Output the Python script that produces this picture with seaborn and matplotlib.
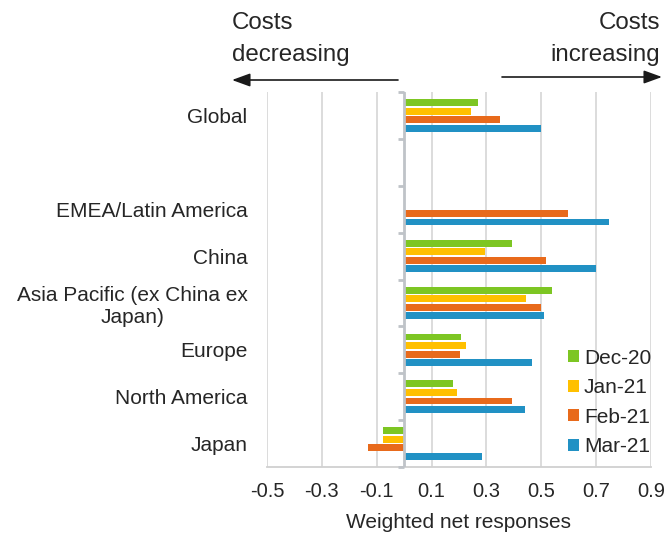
import matplotlib
matplotlib.use("Agg")
import matplotlib.pyplot as plt
from matplotlib.patches import FancyArrowPatch
import numpy as np
import pandas as pd
import seaborn as sns

# categories top to bottom ("" is the empty spacer row)
regions = ["Global", "", "EMEA/Latin America", "China",
           "Asia Pacific (ex China ex\nJapan)", "Europe", "North America", "Japan"]
months = ["Dec-20", "Jan-21", "Feb-21", "Mar-21"]
colors = ["#7DC623", "#FFC000", "#E86A1B", "#2191C4"]

dec20 = [0.268, np.nan, np.nan, 0.392, 0.539, 0.208, 0.178, -0.076]
jan21 = [0.242, np.nan, np.nan, 0.296, 0.444, 0.226, 0.191, -0.076]
feb21 = [0.351, np.nan, 0.599, 0.517, 0.499, 0.203, 0.395, -0.132]
mar21 = [0.500, np.nan, 0.747, 0.698, 0.511, 0.465, 0.440, 0.284]

x_ticks = [-0.5, -0.3, -0.1, 0.1, 0.3, 0.5, 0.7, 0.9]

df = pd.DataFrame({"region": regions * 4,
                   "month": np.repeat(months, len(regions)),
                   "value": dec20 + jan21 + feb21 + mar21}).dropna()

sns.set_theme(style="white")
plt.rcParams["font.family"] = ["Liberation Sans", "DejaVu Sans"]
text_c = "#262626"
fs = 15

W, H = 667, 534
fig = plt.figure(figsize=(W / 100, H / 100), dpi=100)
ax = fig.add_axes([267 / W, 1 - 467 / H, (651 - 267) / W, (467 - 92) / H])

sns.barplot(data=df, y="region", x="value", hue="month", order=regions, hue_order=months,
            palette=colors, orient="h", width=0.73, gap=0.2, ax=ax, saturation=1,
            linewidth=0, errorbar=None)

ax.set_xlim(-0.5, 0.9)
ax.set_ylim(len(regions) - 0.5, -0.5)
ax.set_xticks(x_ticks)
ax.set_xticklabels([f"{t:.1f}" for t in x_ticks], fontsize=14.5, color=text_c)
ax.set_yticks(range(len(regions)))
ax.set_yticklabels(regions, fontsize=fs, color=text_c, multialignment="center")
ax.tick_params(axis="y", length=0, pad=14)
ax.tick_params(axis="x", length=3, width=1.2, color="#D0D0D0", pad=8)
ax.set_xlabel("Weighted net responses", fontsize=fs, color=text_c, labelpad=8.5)
ax.set_ylabel("")

ax.grid(axis="x", color="#D9D9D9", linewidth=1.3)
ax.set_axisbelow(True)
for s in ["top", "right", "left"]:
    ax.spines[s].set_visible(False)
ax.spines["bottom"].set_color("#D0D0D0")
ax.spines["bottom"].set_linewidth(1.3)

# zero axis with tick marks between categories
ax.axvline(0, color="#BFC3C8", linewidth=2, zorder=3)
bounds = np.arange(len(regions) + 1) - 0.5
ax.hlines(bounds, -0.024, 0, color="#BFC3C8", linewidth=2, zorder=3, clip_on=False)

handles, labels = ax.get_legend_handles_labels()
ax.legend(handles, labels, loc="lower right", bbox_to_anchor=(651 / W, 1 - 456 / H),
          bbox_transform=fig.transFigure, frameon=False, fontsize=fs,
          handlelength=0.5, handleheight=0.5, handletextpad=0.25, labelspacing=0.5,
          borderpad=0, borderaxespad=0, labelcolor=text_c)

# direction annotations above the plot
cfs = 17.4
fig.text(232 / W, 1 - 12 / H, "Costs\ndecreasing", ha="left", va="top",
         fontsize=cfs, color=text_c, linespacing=1.6)
fig.text(660 / W, 1 - 12 / H, "Costs\nincreasing", ha="right", va="top",
         fontsize=cfs, color=text_c, linespacing=1.6, multialignment="right")
arrow = dict(arrowstyle="-|>,head_length=1.1,head_width=0.4", color="#1a1a1a",
             lw=1.2, mutation_scale=10, shrinkA=0, shrinkB=0, transform=fig.transFigure)
fig.add_artist(FancyArrowPatch((398 / W, 1 - 80 / H), (232 / W, 1 - 80 / H), **arrow))
fig.add_artist(FancyArrowPatch((502 / W, 1 - 77 / H), (662 / W, 1 - 77 / H), **arrow))

fig.savefig("out.png", dpi=100)
